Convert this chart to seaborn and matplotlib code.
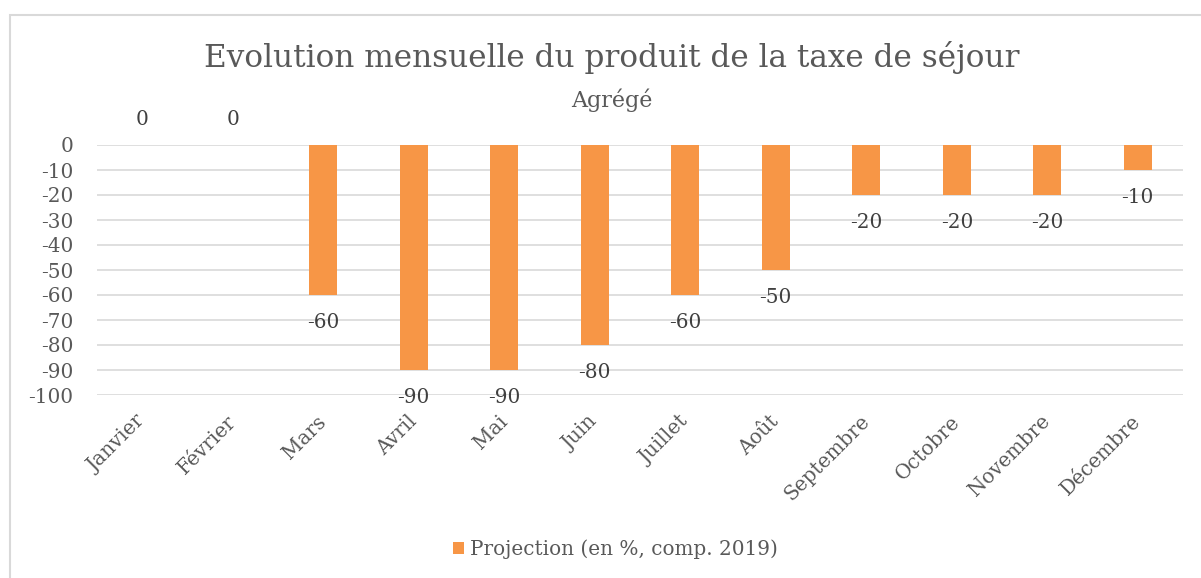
import matplotlib
matplotlib.use("Agg")
import matplotlib.pyplot as plt
import seaborn as sns
import pandas as pd
from matplotlib.patches import Rectangle

months = ["Janvier", "Février", "Mars", "Avril", "Mai", "Juin", "Juillet",
          "Août", "Septembre", "Octobre", "Novembre", "Décembre"]
values = [0, 0, -60, -90, -90, -80, -60, -50, -20, -20, -20, -10]
series_name = "Projection (en %, comp. 2019)"
title = "Evolution mensuelle du produit de la taxe de séjour"
subtitle = "Agrégé"
yticks = [0, -10, -20, -30, -40, -50, -60, -70, -80, -90, -100]

sns.set_style("white")
plt.rcParams['font.family'] = ['DejaVu Serif']

df = pd.DataFrame({"mois": months, "valeur": values})

W, H = 1201, 578
fig = plt.figure(figsize=(W / 100, H / 100), dpi=100)
ax = fig.add_axes([97 / W, 1 - 395 / H, (1183 - 97) / W, (395 - 145) / H])

bar_color = "#F79646"
sns.barplot(data=df, x="mois", y="valeur", color=bar_color, width=0.31,
            saturation=1, ax=ax, label=series_name, edgecolor="none",
            linewidth=0)

FS = 14.4
ax.set_ylim(-100, 0)
ax.set_xlim(-0.5, len(months) - 0.5)
ax.set_yticks(yticks)
ax.set_yticklabels([str(v) for v in yticks])
ax.grid(axis="y", color="#D9D9D9", linewidth=1.2)
ax.set_axisbelow(True)
for s in ax.spines.values():
    s.set_visible(False)
ax.set_xlabel("")
ax.set_ylabel("")
ax.tick_params(axis="y", length=0, pad=17, labelsize=FS, labelcolor="#595959")
ax.tick_params(axis="x", length=0, pad=17, labelsize=FS, labelcolor="#595959")
for lbl in ax.get_xticklabels():
    lbl.set_rotation(45)
    lbl.set_ha("right")
    lbl.set_va("center")
    lbl.set_rotation_mode("anchor")

for i, v in enumerate(values):
    off = 18.5 if v >= 0 else -19.5
    ax.annotate(str(v), xy=(i, v), xytext=(0, off), textcoords="offset points",
                ha="center", va="center", fontsize=FS, color="#404040",
                annotation_clip=False)

fig.text(612 / W, 1 - 57 / H, title, ha="center", va="center",
         fontsize=22.4, color="#595959")
fig.text(612 / W, 1 - 100 / H, subtitle, ha="center", va="center",
         fontsize=16, color="#595959")

leg = ax.legend(loc="center", bbox_to_anchor=(615 / W, 1 - 549 / H),
                bbox_transform=fig.transFigure, frameon=False,
                fontsize=FS, handlelength=0.55, handleheight=0.55,
                handletextpad=0.3, labelcolor="#595959")

fig.add_artist(Rectangle((10 / W, -0.1), 1.1, 1 - 15 / H + 0.1,
                         transform=fig.transFigure, fill=False,
                         edgecolor="#D9D9D9", linewidth=1.5))

fig.savefig("out.png", dpi=100)
